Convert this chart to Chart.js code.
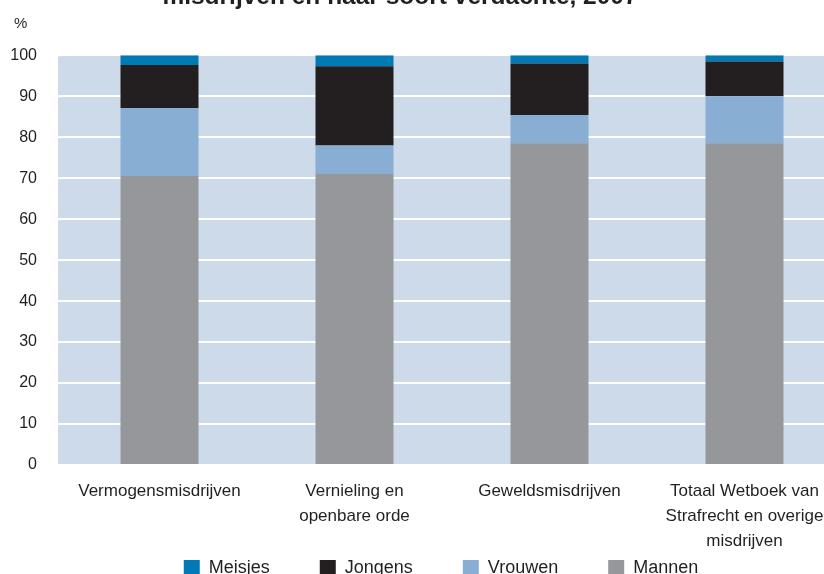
<!DOCTYPE html>
<html>
<head>
<meta charset="utf-8">
<script src="https://cdn.jsdelivr.net/npm/chart.js@4.4.1/dist/chart.umd.min.js"></script>
<style>
  html, body { margin: 0; padding: 0; overflow: hidden; background: #fff; width: 824px; height: 574px; }
  #wrap { position: absolute; left: 0; top: -12px; width: 842px; height: 643px; }
</style>
</head>
<body>
<div id="wrap"><canvas id="chart1"></canvas></div>
<script>
// categorieen en waarden (procent per soort verdachte)
const categories = [
    'Vermogensmisdrijven',
    ['Vernieling en', 'openbare orde'],
    'Geweldsmisdrijven',
    ['Totaal Wetboek van', 'Strafrecht en overige', 'misdrijven']
];
const mannen  = [70.5, 71.0, 78.5, 78.5];
const vrouwen = [16.6, 7.0, 6.9, 11.5];
const jongens = [10.5, 19.3, 12.6, 8.5];
const meisjes = [2.4, 2.7, 2.0, 1.5];
const yTicks = [0, 10, 20, 30, 40, 50, 60, 70, 80, 90, 100];

const font = "'Liberation Sans', Arial, sans-serif";
const textColor = '#231f20';
const legendGap = 50;

// achtergrond van het plotvlak, "%" boven de as, legenda/titel wat verschuiven
const plotBg = {
    id: 'plotBg',
    afterLayout(chart) {
        const lg = chart.legend;
        const dy = 571 - (lg.top + legendGap);
        lg.top += dy; lg.bottom += dy;
        lg.left += 20; lg.right += 20;
        const t = chart.titleBlock;
        t.left -= 21; t.right -= 21;
    },
    beforeDraw(chart) {
        const a = chart.chartArea;
        const ctx = chart.ctx;
        const y = chart.scales.y;
        ctx.save();
        ctx.fillStyle = '#cddaea';
        ctx.fillRect(a.left - 4, a.top, a.right - a.left + 4, a.bottom - a.top);
        // rasterlijnen ook door de smalle strook links laten lopen
        ctx.strokeStyle = '#ffffff';
        ctx.lineWidth = 2;
        yTicks.forEach(v => {
            const py = y.getPixelForValue(v);
            ctx.beginPath();
            ctx.moveTo(a.left - 4, py);
            ctx.lineTo(a.left, py);
            ctx.stroke();
        });
        ctx.restore();
    },
    afterDraw(chart) {
        const ctx = chart.ctx;
        ctx.save();
        ctx.fillStyle = textColor;
        ctx.font = '15px ' + font;
        ctx.textAlign = 'left';
        ctx.textBaseline = 'alphabetic';
        ctx.fillText('%', 14, chart.chartArea.top - 27);
        ctx.restore();
    }
};

const ctx = document.getElementById('chart1').getContext('2d');
const myChart = new Chart(ctx, {
    type: 'bar',
    data: {
        labels: categories,
        datasets: [
            { label: 'Mannen',  data: mannen,  backgroundColor: '#96979b' },
            { label: 'Vrouwen', data: vrouwen, backgroundColor: '#88aed4' },
            { label: 'Jongens', data: jongens, backgroundColor: '#231f20' },
            { label: 'Meisjes', data: meisjes, backgroundColor: '#0079b5' }
        ]
    },
    options: {
        responsive: true,
        maintainAspectRatio: false,
        animation: false,
        datasets: { bar: { barPercentage: 0.40, categoryPercentage: 1.0 } },
        layout: { padding: 0 },
        plugins: {
            title: {
                display: true,
                text: 'misdrijven en naar soort verdachte, 2007',
                color: textColor,
                font: { family: font, size: 24.5, weight: 'bold', lineHeight: 0.72 },
                padding: { top: 0, bottom: 49.6 }
            },
            legend: {
                position: 'bottom',
                reverse: true,
                labels: {
                    color: textColor,
                    font: { family: font, size: 18 },
                    boxWidth: 16,
                    boxHeight: 16,
                    padding: legendGap
                }
            },
            tooltip: { enabled: false }
        },
        scales: {
            x: {
                stacked: true,
                grid: { display: false, drawTicks: false },
                border: { display: false },
                ticks: {
                    color: textColor,
                    font: { family: font, size: 17, lineHeight: 1.47 },
                    padding: 14,
                    maxRotation: 0,
                    autoSkip: false
                },
                afterFit(scale) { scale.height = 88; }
            },
            y: {
                stacked: true,
                min: 0,
                max: 100,
                afterBuildTicks(scale) { scale.ticks = yTicks.map(v => ({ value: v })); },
                grid: { color: '#ffffff', lineWidth: 2, drawTicks: false },
                border: { display: false },
                ticks: {
                    color: textColor,
                    font: { family: font, size: 16 },
                    padding: 25
                },
                afterFit(scale) { scale.width = 62; }
            }
        }
    },
    plugins: [plotBg]
});
</script>
</body>
</html>
